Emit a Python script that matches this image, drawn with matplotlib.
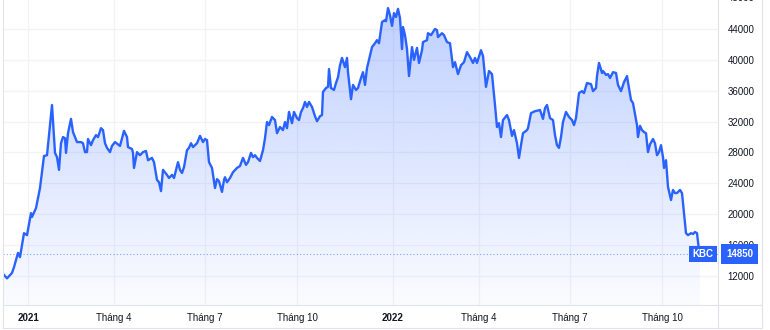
"""KBC price chart (TradingView style), Dec 2020 - Nov 2022."""

import matplotlib

matplotlib.use("Agg")
import matplotlib.dates as mdates
import matplotlib.pyplot as plt
import numpy as np
import pandas as pd
from matplotlib.lines import Line2D

plt.rcParams["font.family"] = ["Liberation Sans", "DejaVu Sans"]

# ---- data ----
dates = [
    "2020-12-12", "2020-12-15", "2020-12-20", "2020-12-22", "2020-12-26", "2020-12-28",
    "2021-01-01", "2021-01-04", "2021-01-08", "2021-01-09", "2021-01-13", "2021-01-17",
    "2021-01-21", "2021-01-24", "2021-01-29", "2021-02-01", "2021-02-03", "2021-02-05",
    "2021-02-07", "2021-02-09", "2021-02-11", "2021-02-12", "2021-02-14", "2021-02-17",
    "2021-02-19", "2021-02-21", "2021-02-23", "2021-02-27", "2021-03-01", "2021-03-03",
    "2021-03-05", "2021-03-06", "2021-03-09", "2021-03-11", "2021-03-14", "2021-03-16",
    "2021-03-19", "2021-03-21", "2021-03-23", "2021-03-25", "2021-03-28", "2021-03-30",
    "2021-04-02", "2021-04-06", "2021-04-07", "2021-04-11", "2021-04-14", "2021-04-15",
    "2021-04-19", "2021-04-20", "2021-04-21", "2021-04-24", "2021-04-27", "2021-04-30",
    "2021-05-03", "2021-05-05", "2021-05-09", "2021-05-11", "2021-05-14", "2021-05-16",
    "2021-05-18", "2021-05-20", "2021-05-24", "2021-05-26", "2021-05-29", "2021-05-31",
    "2021-06-02", "2021-06-04", "2021-06-06", "2021-06-08", "2021-06-10", "2021-06-13",
    "2021-06-15", "2021-06-17", "2021-06-19", "2021-06-23", "2021-06-26", "2021-06-29",
    "2021-07-01", "2021-07-03", "2021-07-05", "2021-07-08", "2021-07-11", "2021-07-13",
    "2021-07-15", "2021-07-18", "2021-07-20", "2021-07-21", "2021-07-23", "2021-07-26",
    "2021-07-29", "2021-08-02", "2021-08-05", "2021-08-08", "2021-08-11", "2021-08-13",
    "2021-08-16", "2021-08-18", "2021-08-20", "2021-08-22", "2021-08-25", "2021-08-28",
    "2021-08-30", "2021-09-01", "2021-09-03", "2021-09-06", "2021-09-09", "2021-09-11",
    "2021-09-14", "2021-09-17", "2021-09-19", "2021-09-21", "2021-09-23", "2021-09-26",
    "2021-09-28", "2021-10-01", "2021-10-03", "2021-10-05", "2021-10-07", "2021-10-09",
    "2021-10-11", "2021-10-13", "2021-10-16", "2021-10-19", "2021-10-21", "2021-10-24",
    "2021-10-26", "2021-10-27", "2021-10-30", "2021-11-01", "2021-11-02", "2021-11-04",
    "2021-11-07", "2021-11-09", "2021-11-11", "2021-11-13", "2021-11-15", "2021-11-18",
    "2021-11-20", "2021-11-21", "2021-11-24", "2021-11-26", "2021-11-29", "2021-12-01",
    "2021-12-04", "2021-12-06", "2021-12-08", "2021-12-10", "2021-12-12", "2021-12-15",
    "2021-12-18", "2021-12-20", "2021-12-22", "2021-12-25", "2021-12-28", "2021-12-29",
    "2021-12-31", "2022-01-02", "2022-01-04", "2022-01-06", "2022-01-08", "2022-01-10",
    "2022-01-12", "2022-01-14", "2022-01-15", "2022-01-17", "2022-01-19", "2022-01-21",
    "2022-01-24", "2022-01-26", "2022-01-29", "2022-01-31", "2022-02-03", "2022-02-04",
    "2022-02-08", "2022-02-09", "2022-02-12", "2022-02-14", "2022-02-16", "2022-02-18",
    "2022-02-19", "2022-02-23", "2022-02-25", "2022-02-28", "2022-03-03", "2022-03-06",
    "2022-03-08", "2022-03-11", "2022-03-14", "2022-03-17", "2022-03-20", "2022-03-23",
    "2022-03-26", "2022-03-28", "2022-03-30", "2022-04-03", "2022-04-05", "2022-04-08",
    "2022-04-11", "2022-04-14", "2022-04-17", "2022-04-19", "2022-04-21", "2022-04-23",
    "2022-04-25", "2022-04-29", "2022-05-01", "2022-05-04", "2022-05-06", "2022-05-09",
    "2022-05-11", "2022-05-13", "2022-05-15", "2022-05-19", "2022-05-20", "2022-05-23",
    "2022-05-27", "2022-06-01", "2022-06-04", "2022-06-06", "2022-06-08", "2022-06-11",
    "2022-06-14", "2022-06-16", "2022-06-18", "2022-06-20", "2022-06-22", "2022-06-24",
    "2022-06-27", "2022-06-30", "2022-07-03", "2022-07-05", "2022-07-07", "2022-07-10",
    "2022-07-13", "2022-07-15", "2022-07-18", "2022-07-22", "2022-07-24", "2022-07-27",
    "2022-07-28", "2022-07-30", "2022-08-02", "2022-08-03", "2022-08-06", "2022-08-08",
    "2022-08-10", "2022-08-13", "2022-08-16", "2022-08-18", "2022-08-21", "2022-08-24",
    "2022-08-27", "2022-08-28", "2022-08-31", "2022-09-02", "2022-09-06", "2022-09-07",
    "2022-09-09", "2022-09-11", "2022-09-13", "2022-09-15", "2022-09-17", "2022-09-19",
    "2022-09-22", "2022-09-24", "2022-09-26", "2022-09-28", "2022-09-30", "2022-10-02",
    "2022-10-03", "2022-10-05", "2022-10-07", "2022-10-10", "2022-10-12", "2022-10-14",
    "2022-10-16", "2022-10-19", "2022-10-21", "2022-10-25", "2022-10-27", "2022-10-30",
    "2022-11-01", "2022-11-03", "2022-11-05", "2022-11-07", "2022-11-08",
]
prices = [
    12150, 11700, 12400, 13150, 15000, 14450,
    17550, 17300, 20150, 19650, 20800, 23400,
    27550, 27650, 34150, 27950, 27400, 25750,
    29200, 30000, 29850, 27950, 30500, 32350,
    30650, 30000, 29350, 29350, 29200, 28050,
    28050, 29750, 28950, 29600, 30250, 30000,
    31150, 30900, 29200, 28600, 28050, 28850,
    29350, 28950, 28850, 30800, 30000, 28700,
    28450, 27950, 26000, 28050, 27650, 28050,
    28200, 27000, 27300, 26750, 24450, 24150,
    23000, 25750, 25100, 24700, 25100, 24700,
    25750, 26750, 25750, 25350, 26100, 28300,
    28600, 29200, 28700, 29200, 30150, 29350,
    29750, 29600, 26750, 26000, 23400, 24550,
    24300, 22900, 24450, 24800, 24150, 24700,
    25450, 26000, 26250, 27300, 26400, 26750,
    27950, 27400, 27650, 27300, 26900, 28300,
    29850, 31950, 31550, 32600, 32200, 30500,
    31300, 30900, 31950, 31150, 33250, 31800,
    33250, 32450, 32200, 33250, 33750, 34550,
    33900, 34550, 33900, 32700, 32050, 32700,
    32850, 35850, 36350, 36500, 38800, 36350,
    36100, 37000, 37750, 39300, 40250, 39050,
    40250, 38400, 34900, 36750, 36100, 36350,
    37650, 38400, 36750, 38950, 40000, 41650,
    42150, 42550, 42150, 44900, 45150, 45000,
    46700, 45800, 44400, 46050, 45550, 46600,
    45400, 41400, 44250, 43200, 41400, 37900,
    41650, 40000, 41550, 39600, 41250, 42300,
    42550, 43450, 43200, 43600, 44000, 43850,
    42950, 43450, 43200, 42300, 42150, 39050,
    39700, 38150, 39300, 39700, 41000, 40350,
    39600, 40250, 39600, 41250, 40500, 36500,
    38550, 38150, 34150, 31300, 31800, 30000,
    32200, 32850, 32200, 30150, 30900, 29200,
    27300, 28950, 30500, 30900, 31150, 33100,
    33350, 33500, 32350, 33750, 34150, 32450,
    32200, 30250, 28950, 28600, 30000, 31950,
    33250, 32600, 32200, 31550, 32450, 35700,
    35950, 35700, 37000, 36850, 35950, 36350,
    37900, 39600, 38300, 38550, 38050, 38150,
    37650, 38400, 38300, 36750, 35950, 37100,
    37900, 37100, 34800, 34400, 31550, 30000,
    31450, 30900, 30650, 30500, 28050, 29050,
    29750, 29200, 27650, 28050, 28950, 27400,
    26000, 27000, 23550, 21850, 23150, 22750,
    22750, 23150, 22750, 17550, 17300, 17550,
    17450, 17700, 17550, 15350, 14850,
]
tick_dates = ["2021-01-05", "2021-04-01", "2021-07-01", "2021-10-01",
              "2022-01-05", "2022-04-01", "2022-07-01", "2022-10-01"]
tick_labels = ["2021", "Tháng 4", "Tháng 7", "Tháng 10",
               "2022", "Tháng 4", "Tháng 7", "Tháng 10"]
y_ticks = [12000, 16000, 20000, 24000, 28000, 32000, 36000, 40000, 44000]
ticker = "KBC"
last_price = 14850

BLUE = "#2962ff"
GRID = "#f2f3f6"
BORDER = "#e0e3eb"
TEXT = "#131722"

fig = plt.figure(figsize=(7.7, 3.3), dpi=100)
fig.patch.set_facecolor("white")
ax = fig.add_axes([3 / 770, 25 / 330, 715 / 770, 305 / 330])

x = pd.to_datetime(dates)
ymin, ymax = 8250, 47750
ax.set_xlim(pd.Timestamp("2020-12-11"), pd.Timestamp("2022-11-26"))
ax.set_ylim(ymin, ymax)

# gradient area under the line
poly = ax.fill_between(x, prices, ymin, color="none", lw=0)
xn = mdates.date2num(x)
grad = np.zeros((256, 1, 4))
grad[:, 0, :3] = np.array([41, 98, 255]) / 255
grad[:, 0, 3] = np.linspace(0.02, 0.30, 256)
im = ax.imshow(grad, aspect="auto", origin="lower",
               extent=[xn[0], xn[-1], ymin, max(prices)], zorder=1)
im.set_clip_path(poly.get_paths()[0], transform=ax.transData)

ax.plot(x, prices, color=BLUE, lw=1.7, zorder=3, solid_joinstyle="round")

# last price line + labels
ax.axhline(last_price, color=BLUE, lw=0.8, ls=(0, (1, 2)), alpha=0.55, zorder=2)
ax.annotate(ticker, xy=(1, last_price), xycoords=ax.get_yaxis_transform(),
            xytext=(-3, 0), textcoords="offset points", ha="right", va="center",
            color="white", fontsize=7, fontweight="bold", annotation_clip=False,
            bbox=dict(boxstyle="square,pad=0.35", fc=BLUE, ec="none"), zorder=5)
ax.annotate(f"{last_price}", xy=(1, last_price), xycoords=ax.get_yaxis_transform(),
            xytext=(6, 0), textcoords="offset points", ha="left", va="center",
            color="white", fontsize=7, fontweight="bold", annotation_clip=False,
            bbox=dict(boxstyle="square,pad=0.5", fc=BLUE, ec="none"), zorder=5)

# axes styling
ax.set_yticks(y_ticks)
ax.set_yticklabels([str(v) for v in y_ticks])
ax.yaxis.tick_right()
ax.set_xticks(pd.to_datetime(tick_dates))
ax.set_xticklabels(tick_labels)
for lab in ax.get_xticklabels():
    if lab.get_text().isdigit():
        lab.set_fontweight("bold")
ax.tick_params(axis="y", length=0, pad=7, labelsize=7, labelcolor=TEXT)
ax.tick_params(axis="x", length=0, pad=6, labelsize=7, labelcolor=TEXT)
ax.grid(True, color=GRID, lw=0.9)
ax.set_axisbelow(True)
for s in ax.spines.values():
    s.set_visible(False)

# partially visible top label
ax.annotate("48000", xy=(1, 48000), xycoords=ax.get_yaxis_transform(),
            xytext=(7, 0), textcoords="offset points", ha="left", va="center",
            fontsize=7, color=TEXT, annotation_clip=False)

# panel borders
for xs, ys in [([3, 762], [25, 25]), ([3, 762], [2, 2]),
               ([718, 718], [2, 330]), ([762, 762], [2, 330]), ([3, 3], [2, 330])]:
    fig.add_artist(Line2D([v / 770 for v in xs], [v / 330 for v in ys],
                          transform=fig.transFigure, color=BORDER, lw=0.8))

fig.savefig("out.png", dpi=100)
